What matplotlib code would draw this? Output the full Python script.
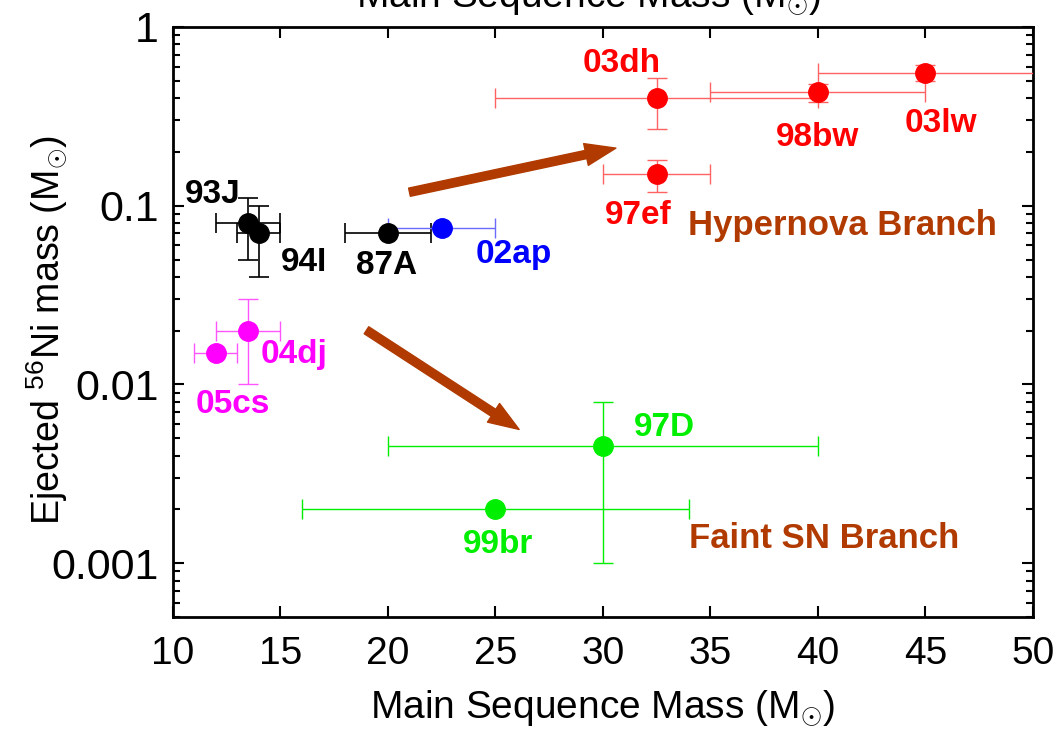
import matplotlib
matplotlib.use("Agg")
import matplotlib.pyplot as plt
from matplotlib.ticker import FixedLocator, FuncFormatter, LogLocator, NullFormatter

plt.rcParams['font.family'] = ['Liberation Sans', 'DejaVu Sans']
plt.rcParams['mathtext.fontset'] = 'custom'
plt.rcParams['mathtext.rm'] = 'Liberation Sans'
plt.rcParams['mathtext.it'] = 'Liberation Sans:italic'
plt.rcParams['mathtext.bf'] = 'Liberation Sans:bold'

# supernovae: main-sequence mass (with range) and ejected 56Ni mass (with range)
sn_names = ['93J', '94I', '87A', '02ap', '04dj', '05cs',
            '03dh', '98bw', '03lw', '97ef', '97D', '99br']
ms_mass = [13.5, 14.0, 20.0, 22.5, 13.5, 12.0, 32.5, 40.0, 45.0, 32.5, 30.0, 25.0]
ms_low = [12.0, 13.0, 18.0, 20.0, 12.0, 11.0, 25.0, 35.0, 40.0, 30.0, 20.0, 16.0]
ms_high = [15.0, 15.0, 22.0, 25.0, 15.0, 13.0, 40.0, 45.0, 55.0, 35.0, 40.0, 34.0]
ni_mass = [0.08, 0.07, 0.07, 0.075, 0.02, 0.015, 0.40, 0.43, 0.55, 0.15, 0.0045, 0.002]
ni_low = [0.05, 0.04, 0.07, 0.075, 0.01, 0.015, 0.27, 0.38, 0.50, 0.12, 0.001, 0.002]
ni_high = [0.11, 0.10, 0.07, 0.075, 0.03, 0.015, 0.52, 0.48, 0.61, 0.18, 0.008, 0.002]

# colour groups (indices into the lists above)
groups = [
    ([0, 1, 2], 'black', 'black', 1.2),
    ([3], '#0000ff', '#6a6aff', 1.0),
    ([4, 5], '#ff00ff', '#ff55ff', 1.0),
    ([6, 7, 8, 9], '#ff0000', '#ff6262', 1.0),
    ([10, 11], '#00ee00', '#00ee00', 1.0),
]

# where each name goes (x centre, baseline y)
label_xy = {
    '93J': (11.84, 0.1035), '94I': (16.09, 0.0431), '87A': (19.95, 0.0415),
    '02ap': (25.86, 0.0478), '04dj': (15.63, 0.0132), '05cs': (12.79, 0.00692),
    '03dh': (30.88, 0.560), '98bw': (40.0, 0.216), '03lw': (45.72, 0.2585),
    '97ef': (31.63, 0.079), '97D': (32.88, 0.00514), '99br': (25.12, 0.00114),
}

branch_color = '#b03a00'
branch_names = ['Hypernova Branch', 'Faint SN Branch']
branch_xy = [(41.16, 0.0686), (40.28, 0.001215)]
arrow_start = [(21.0, 0.119), (19.0, 0.0201)]
arrow_end = [(30.6, 0.21), (26.1, 0.0056)]

fig = plt.figure(figsize=(10.6, 7.39), dpi=100)
ax = fig.add_axes([0.1632, 0.1651, 0.8113, 0.7984])

for idx, col, ecol, elw in groups:
    for i in idx:
        xerr = [[ms_mass[i] - ms_low[i]], [ms_high[i] - ms_mass[i]]]
        yerr = [[ni_mass[i] - ni_low[i]], [ni_high[i] - ni_mass[i]]]
        ax.errorbar([ms_mass[i]], [ni_mass[i]], xerr=xerr, yerr=yerr,
                    fmt='o', color=col, ecolor=ecol, elinewidth=elw,
                    capsize=7, capthick=elw, markersize=14, zorder=3)
        lx, ly = label_xy[sn_names[i]]
        ax.text(lx, ly, sn_names[i], color=col, fontsize=24, fontweight='bold',
                ha='center', va='baseline', zorder=5)

for name, (bx, by) in zip(branch_names, branch_xy):
    ax.text(bx, by, name, color=branch_color, fontsize=25, fontweight='bold',
            ha='center', va='baseline')

for s, e in zip(arrow_start, arrow_end):
    ax.annotate('', xy=e, xytext=s,
                arrowprops=dict(arrowstyle='simple,head_length=1.1,head_width=0.8,tail_width=0.3',
                                color=branch_color, mutation_scale=20,
                                shrinkA=0, shrinkB=0))

ax.set_xlim(10, 50)
ax.set_yscale('log')
ax.set_ylim(5e-4, 1)
ax.xaxis.set_major_locator(FixedLocator([10, 15, 20, 25, 30, 35, 40, 45, 50]))
ax.yaxis.set_major_locator(FixedLocator([0.001, 0.01, 0.1, 1]))
ax.yaxis.set_major_formatter(FuncFormatter(lambda v, p: '%g' % v))
ax.yaxis.set_minor_locator(LogLocator(base=10, subs=range(2, 10)))
ax.yaxis.set_minor_formatter(NullFormatter())

ax.tick_params(which='both', direction='in', top=True, right=True, width=1.5)
ax.tick_params(which='major', length=8)
ax.tick_params(which='minor', length=5)
ax.tick_params(axis='x', labelsize=28, pad=14)
ax.tick_params(axis='y', labelsize=31, pad=10)
for sp in ax.spines.values():
    sp.set_linewidth(2)

ax.set_xlabel(r'Main Sequence Mass (M$_{\odot}$)', fontsize=28, labelpad=12)
ax.set_ylabel(r'Ejected $^{56}$Ni mass (M$_{\odot}$)', fontsize=27)
ax.yaxis.set_label_coords(-0.121, 0.486)

# title line sitting mostly above the top edge of the canvas
fig.text(0.555, 1 - 7 / 739, r'Main Sequence Mass (M$_{\odot}$)', fontsize=28,
         ha='center', va='baseline')

fig.savefig('out.png', dpi=100)
